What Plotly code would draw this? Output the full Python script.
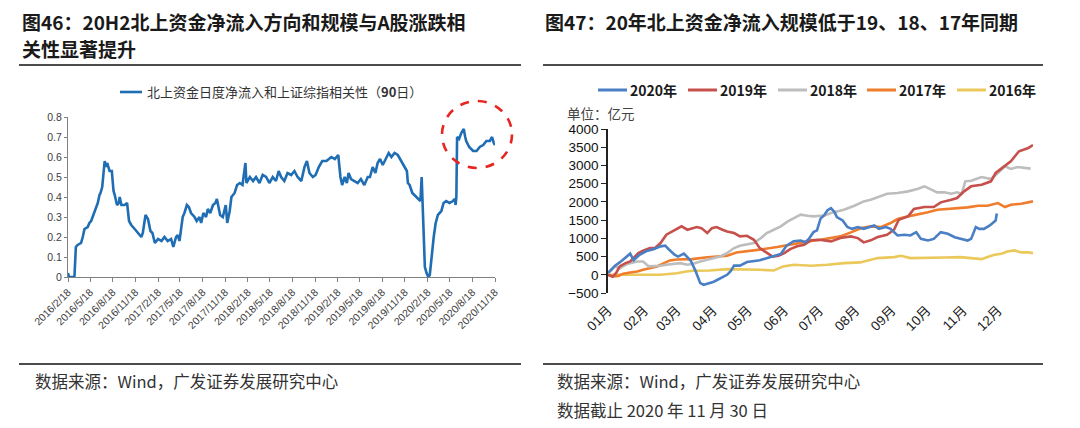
import plotly.graph_objects as go

# The page body keeps the browser's default 8px margin, so the figure is drawn
# 8px smaller and every reference pixel position is shifted by that offset.
PAGE_W, PAGE_H, OFF = 1080, 428, 8
W, H = PAGE_W - OFF, PAGE_H - OFF

# ---------------- Left chart data: 90-day correlation ----------------
corr_dates = [
    "2016-02-18", "2016-02-22", "2016-03-15", "2016-03-18", "2016-03-21", "2016-03-28", "2016-04-11",
    "2016-04-18", "2016-04-25", "2016-05-08", "2016-05-15", "2016-05-22", "2016-05-28", "2016-06-05",
    "2016-06-12", "2016-06-18", "2016-06-25", "2016-06-29", "2016-07-06", "2016-07-11", "2016-07-16",
    "2016-07-22", "2016-07-26", "2016-08-05", "2016-08-14", "2016-08-21", "2016-08-26", "2016-09-04",
    "2016-09-12", "2016-09-15", "2016-09-22", "2016-10-05", "2016-10-15", "2016-10-23", "2016-11-01",
    "2016-11-15", "2016-11-28", "2016-12-12", "2016-12-18", "2016-12-29", "2017-01-08", "2017-01-18",
    "2017-01-26", "2017-02-05", "2017-02-18", "2017-03-04", "2017-03-16", "2017-03-29", "2017-04-12",
    "2017-04-21", "2017-05-02", "2017-05-09", "2017-05-16", "2017-05-22", "2017-05-29", "2017-06-05",
    "2017-06-15", "2017-06-23", "2017-07-02", "2017-07-16", "2017-07-25", "2017-08-05", "2017-08-12",
    "2017-08-21", "2017-09-01", "2017-09-08", "2017-09-18", "2017-09-29", "2017-10-09", "2017-10-15",
    "2017-10-23", "2017-10-28", "2017-11-08", "2017-11-20", "2017-11-26", "2017-12-06", "2017-12-13",
    "2017-12-26", "2018-01-05", "2018-01-16", "2018-01-27", "2018-02-08", "2018-02-12", "2018-02-26",
    "2018-03-11", "2018-03-23", "2018-04-06", "2018-04-19", "2018-05-03", "2018-05-16", "2018-05-30",
    "2018-06-12", "2018-06-23", "2018-07-03", "2018-07-16", "2018-07-29", "2018-08-13", "2018-08-26",
    "2018-09-08", "2018-09-23", "2018-10-06", "2018-10-16", "2018-10-26", "2018-11-09", "2018-11-20",
    "2018-12-03", "2018-12-17", "2019-01-03", "2019-01-23", "2019-02-06", "2019-02-20", "2019-03-01",
    "2019-03-08", "2019-03-18", "2019-03-27", "2019-04-03", "2019-04-13", "2019-04-27", "2019-05-10",
    "2019-05-23", "2019-06-06", "2019-06-20", "2019-06-29", "2019-07-10", "2019-07-21", "2019-07-30",
    "2019-08-09", "2019-08-20", "2019-08-31", "2019-09-13", "2019-09-24", "2019-10-07", "2019-10-20",
    "2019-11-03", "2019-11-17", "2019-11-26", "2019-11-30", "2019-12-07", "2019-12-18", "2019-12-27",
    "2020-01-10", "2020-01-20", "2020-01-25", "2020-01-28", "2020-01-31", "2020-02-07", "2020-02-14",
    "2020-02-21", "2020-02-27", "2020-03-05", "2020-03-09", "2020-03-14", "2020-03-22", "2020-03-31",
    "2020-04-14", "2020-04-23", "2020-05-04", "2020-05-17", "2020-05-31", "2020-06-08", "2020-06-11",
    "2020-06-14", "2020-06-17", "2020-06-25", "2020-07-04", "2020-07-14", "2020-07-20", "2020-07-24",
    "2020-08-05", "2020-08-21", "2020-09-04", "2020-09-17", "2020-10-01", "2020-10-14", "2020-10-28",
    "2020-11-06", "2020-11-13", "2020-11-18",
]
corr_values = [
    0.02, 0.0, 0.0, 0.13, 0.15, 0.16, 0.17,
    0.20, 0.24, 0.25, 0.27, 0.28, 0.30, 0.33,
    0.36, 0.37, 0.41, 0.42, 0.45, 0.50, 0.58,
    0.55, 0.57, 0.53, 0.53, 0.43, 0.41, 0.36,
    0.37, 0.40, 0.36, 0.36, 0.37, 0.28, 0.26,
    0.24, 0.22, 0.20, 0.22, 0.31, 0.29, 0.23,
    0.22, 0.17, 0.19, 0.18, 0.20, 0.18, 0.19,
    0.15, 0.20, 0.21, 0.18, 0.25, 0.30, 0.32,
    0.36, 0.35, 0.32, 0.30, 0.28, 0.30, 0.27,
    0.32, 0.30, 0.34, 0.32, 0.36, 0.37, 0.39,
    0.35, 0.31, 0.30, 0.36, 0.27, 0.33, 0.40,
    0.42, 0.46, 0.47, 0.46, 0.57, 0.47, 0.50,
    0.48, 0.50, 0.47, 0.51, 0.50, 0.47, 0.50,
    0.48, 0.53, 0.50, 0.48, 0.52, 0.51, 0.53,
    0.50, 0.48, 0.55, 0.58, 0.52, 0.50, 0.51,
    0.55, 0.58, 0.58, 0.60, 0.59, 0.61, 0.50,
    0.46, 0.50, 0.47, 0.52, 0.49, 0.48, 0.47,
    0.49, 0.46, 0.50, 0.50, 0.55, 0.52, 0.57,
    0.59, 0.56, 0.59, 0.62, 0.60, 0.62, 0.61,
    0.58, 0.55, 0.53, 0.47, 0.46, 0.42, 0.41,
    0.39, 0.38, 0.50, 0.40, 0.30, 0.05, 0.02,
    0.00, 0.01, 0.10, 0.12, 0.20, 0.27, 0.31,
    0.33, 0.37, 0.38, 0.37, 0.38, 0.39, 0.36,
    0.40, 0.70, 0.69, 0.72, 0.74, 0.70, 0.68,
    0.65, 0.63, 0.63, 0.65, 0.66, 0.68, 0.68,
    0.70, 0.67, 0.66,
]
left_tick_dates = [
    "2016-02-18", "2016-05-18", "2016-08-18", "2016-11-18",
    "2017-02-18", "2017-05-18", "2017-08-18", "2017-11-18",
    "2018-02-18", "2018-05-18", "2018-08-18", "2018-11-18",
    "2019-02-18", "2019-05-18", "2019-08-18", "2019-11-18",
    "2020-02-18", "2020-05-18", "2020-08-18", "2020-11-18",
]
left_tick_labels = [
    "2016/2/18", "2016/5/18", "2016/8/18", "2016/11/18",
    "2017/2/18", "2017/5/18", "2017/8/18", "2017/11/18",
    "2018/2/18", "2018/5/18", "2018/8/18", "2018/11/18",
    "2019/2/18", "2019/5/18", "2019/8/18", "2019/11/18",
    "2020/2/18", "2020/5/18", "2020/8/18", "2020/11/18",
]
left_y_ticks = [0, 0.1, 0.2, 0.3, 0.4, 0.5, 0.6, 0.7, 0.8]
left_y_labels = ["0", "0.1", "0.2", "0.3", "0.4", "0.5", "0.6", "0.7", "0.8"]
left_series_name = "北上资金日度净流入和上证综指相关性（<b>90</b>日）"

# ---------------- Right chart data: cumulative net inflow (亿元) ----------------
month_ticks = ["01-01", "02-01", "03-01", "04-01", "05-01", "06-01",
               "07-01", "08-01", "09-01", "10-01", "11-01", "12-01"]
month_labels = ["01月", "02月", "03月", "04月", "05月", "06月",
                "07月", "08月", "09月", "10月", "11月", "12月"]

flow2020_days = [
    "01-01", "01-03", "01-07", "01-11", "01-16", "01-18", "01-20", "01-23", "01-28", "02-03",
    "02-09", "02-15", "02-19", "02-22", "02-27", "03-02", "03-07", "03-11", "03-13", "03-17",
    "03-21", "03-24", "04-01", "04-04", "04-07", "04-13", "04-16", "04-19", "04-24", "04-30",
    "05-11", "05-20", "05-29", "06-03", "06-09", "06-15", "06-19", "06-22", "06-26", "06-29",
    "07-02", "07-05", "07-08", "07-11", "07-14", "07-16", "07-21", "07-25", "07-29", "08-03",
    "08-08", "08-13", "08-17", "08-21", "08-27", "08-31", "09-06", "09-12", "09-17", "09-22",
    "09-26", "10-02", "10-07", "10-13", "10-19", "10-25", "10-30", "11-05", "11-08", "11-12",
    "11-15", "11-19", "11-24", "11-28", "11-29", "11-30",
]
flow2020 = [
    50, 110, 250, 340, 480, 545, 580, 400, 550, 650,
    700, 780, 800, 700, 550, 500, 580, 450, 380, 100,
    -230, -275, -200, -150, -100, 0, 100, 250, 250, 350,
    400, 480, 570, 800, 920, 940, 895, 985, 1170, 1217,
    1540, 1630, 1770, 1830, 1720, 1585, 1490, 1310, 1260, 1310,
    1260, 1310, 1355, 1260, 1310, 1260, 1080, 1100, 1080, 1170,
    985, 940, 985, 1170, 1125, 1030, 985, 940, 985, 1310,
    1260, 1260, 1355, 1450, 1490, 1680,
]

flow2019_days = [
    "01-01", "01-05", "01-08", "01-11", "01-16", "01-20", "01-23", "01-27", "01-31", "02-06",
    "02-10", "02-15", "02-20", "02-25", "03-02", "03-05", "03-10", "03-14", "03-18", "03-22",
    "03-27", "03-31", "04-04", "04-09", "04-13", "04-19", "04-24", "04-30", "05-06", "05-11",
    "05-17", "05-22", "05-27", "06-01", "06-06", "06-12", "06-18", "06-24", "07-01", "07-11",
    "07-19", "07-28", "08-03", "08-08", "08-14", "08-20", "08-28", "09-03", "09-07", "09-15",
    "09-20", "09-29", "10-07", "10-13", "10-22", "10-27", "11-02", "11-08", "11-17", "11-25",
    "11-29", "12-07", "12-12", "12-19", "12-27", "12-31",
]
flow2019 = [
    0, -50, 50, 230, 320, 365, 460, 595, 660, 730,
    730, 870, 1100, 1190, 1280, 1330, 1236, 1280, 1310, 1280,
    1145, 1280, 1310, 1236, 1190, 1145, 1053, 1070, 960, 730,
    595, 500, 520, 595, 705, 780, 825, 950, 962, 916,
    1007, 1053, 1007, 889, 944, 1035, 1099, 1236, 1511, 1603,
    1804, 1859, 1859, 1987, 2060, 2106, 2289, 2427, 2472, 2564,
    2793, 2976, 3114, 3388, 3480, 3560,
]

flow2018_days = [
    "01-01", "01-03", "01-07", "01-11", "01-16", "01-20", "01-26", "01-31", "02-05", "02-09",
    "02-15", "02-20", "02-26", "03-04", "03-10", "03-15", "03-21", "03-27", "04-02", "04-07",
    "04-13", "04-19", "04-24", "04-30", "05-06", "05-12", "05-17", "05-23", "05-29", "06-04",
    "06-09", "06-15", "06-21", "06-26", "07-02", "07-05", "07-11", "07-16", "07-22", "07-31",
    "08-08", "08-14", "08-20", "08-28", "09-06", "09-15", "09-23", "09-29", "10-05", "10-10",
    "10-16", "10-22", "10-27", "10-31", "11-03", "11-08", "11-17", "11-25", "12-01", "12-07",
    "12-12", "12-18", "12-29",
]
flow2018 = [
    50, 90, 230, 180, 275, 320, 365, 365, 230, 230,
    247, 275, 293, 320, 275, 302, 365, 412, 458, 504,
    595, 733, 797, 824, 870, 1007, 1145, 1236, 1328, 1466,
    1557, 1649, 1621, 1603, 1621, 1621, 1694, 1740, 1786, 1896,
    2014, 2060, 2133, 2225, 2243, 2289, 2353, 2427, 2335, 2262,
    2262, 2225, 2262, 2225, 2564, 2582, 2683, 2628, 2793, 2976,
    2903, 2958, 2912,
]

flow2017_days = [
    "01-01", "01-06", "01-10", "01-14", "01-20", "01-26", "01-31", "02-06", "02-12", "02-18",
    "02-23", "03-01", "03-14", "03-27", "04-13", "04-21", "04-30", "05-11", "05-26", "06-09",
    "06-24", "07-02", "07-11", "07-19", "07-28", "08-06", "08-14", "08-23", "08-31", "09-06",
    "09-15", "09-23", "10-02", "10-10", "10-19", "10-27", "11-05", "11-14", "11-22", "12-01",
    "12-07", "12-12", "12-21", "12-31",
]
flow2017 = [
    0, -45, -30, 30, 65, 90, 137, 183, 230, 320,
    394, 420, 430, 480, 522, 610, 640, 690, 760, 852,
    930, 962, 1007, 1053, 1163, 1282, 1328, 1310, 1420, 1530,
    1603, 1649, 1713, 1786, 1804, 1832, 1850, 1896, 1896, 1969,
    1859, 1923, 1951, 2014,
]

flow2016_days = [
    "01-01", "01-31", "02-15", "03-01", "03-09", "03-15", "03-29", "04-13", "04-27", "05-11",
    "05-23", "05-31", "06-09", "06-24", "07-08", "07-22", "08-05", "08-14", "08-20", "09-03",
    "09-09", "09-17", "10-02", "10-16", "10-30", "11-08", "11-17", "11-22", "11-28", "12-04",
    "12-09", "12-15", "12-21", "12-27", "12-31",
]
flow2016 = [
    0, 0, 0, 40, 92, 110, 119, 156, 156, 137,
    119, 229, 275, 247, 275, 320, 339, 412, 458, 485,
    522, 458, 458, 476, 485, 458, 430, 485, 550, 577,
    641, 669, 614, 614, 595,
]

# ---------------- Styling ----------------
REF_YEAR = "2021-"
C_LEFT = "#1f6db3"
series_right = [
    ("2020年", flow2020_days, flow2020, "#4a7fc5"),
    ("2019年", flow2019_days, flow2019, "#c5504c"),
    ("2018年", flow2018_days, flow2018, "#bdbdbd"),
    ("2017年", flow2017_days, flow2017, "#f07d2c"),
    ("2016年", flow2016_days, flow2016, "#ebc85a"),
]
LAT = "Liberation Sans, Noto Sans CJK SC, sans-serif"
CJK = "Noto Sans CJK SC, Liberation Sans, sans-serif"


def px(x):
    return (x - OFF) / W


def py(y):
    return 1 - (y - OFF) / H


fig = go.Figure()

fig.add_trace(go.Scatter(
    x=corr_dates, y=corr_values, mode="lines", xaxis="x", yaxis="y",
    line=dict(color=C_LEFT, width=2.6), showlegend=False, name="相关性",
))

# draw older years first so 2020 sits on top
for name, days, vals, col in reversed(series_right):
    fig.add_trace(go.Scatter(
        x=[REF_YEAR + d for d in days], y=vals, mode="lines", xaxis="x2", yaxis="y2",
        line=dict(color=col, width=2.6), showlegend=False, name=name,
    ))

# ---------------- Axes ----------------
y2_dom = [py(293), py(129)]
y2_range = [-500, 4000]
zero_pos = y2_dom[0] + (0 - y2_range[0]) / (y2_range[1] - y2_range[0]) * (y2_dom[1] - y2_dom[0])

fig.update_layout(
    template="none",
    width=W, height=H, margin=dict(l=0, r=0, t=0, b=0, autoexpand=False),
    paper_bgcolor="white", plot_bgcolor="white", showlegend=False,
    xaxis=dict(
        domain=[px(68), px(495)], anchor="y", type="date", automargin=False,
        range=["2016-02-18", "2020-11-18"],
        tickmode="array", tickvals=left_tick_dates, ticktext=left_tick_labels,
        tickangle=-45, tickfont=dict(family=LAT, size=10.5, color="#404040"),
        showgrid=False, zeroline=False, showline=True, linecolor="#808080", linewidth=1,
        ticks="outside", ticklen=4, tickcolor="#808080",
    ),
    yaxis=dict(
        domain=[py(277), py(117)], anchor="x", range=[0, 0.8], automargin=False,
        tickmode="array", tickvals=left_y_ticks, ticktext=left_y_labels,
        tickfont=dict(family=LAT, size=10.5, color="#404040"),
        showgrid=False, zeroline=False, showline=True, linecolor="#808080", linewidth=1,
        ticks="outside", ticklen=3, tickcolor="#808080",
    ),
    xaxis2=dict(
        domain=[px(608), px(1033)], anchor="y2", type="date", automargin=False,
        range=[REF_YEAR + "01-01", REF_YEAR + "12-31"],
        tickmode="array", tickvals=[REF_YEAR + m for m in month_ticks], ticktext=month_labels,
        tickangle=-45, tickfont=dict(family=LAT, size=13.5, color="#222222"),
        showgrid=False, zeroline=False, showline=False, ticks="", ticklabelstandoff=6,
    ),
    xaxis3=dict(
        overlaying="x2", anchor="free", position=zero_pos, type="date", automargin=False,
        range=[REF_YEAR + "01-01", REF_YEAR + "12-31"],
        tickmode="array", tickvals=[REF_YEAR + m for m in month_ticks],
        showticklabels=False, showgrid=False, zeroline=False,
        showline=True, linecolor="#222222", linewidth=1.5,
        ticks="outside", ticklen=5, tickcolor="#222222", tickwidth=1.2,
    ),
    yaxis2=dict(
        domain=y2_dom, anchor="x2", range=y2_range, automargin=False,
        tickmode="linear", tick0=-500, dtick=500,
        tickfont=dict(family=LAT, size=13.5, color="#111111"),
        showgrid=False, zeroline=False, showline=True, linecolor="#222222", linewidth=1.5,
        ticks="outside", ticklen=5, tickcolor="#222222", tickwidth=1.2,
    ),
)

# ---------------- Titles, rules, legends, notes ----------------
ann = []
shapes = []

ann.append(dict(x=px(20), y=py(21), xref="paper", yref="paper", xanchor="left", yanchor="middle",
                showarrow=False, text="<b>图46：20H2北上资金净流入方向和规模与A股涨跌相</b>",
                font=dict(family=CJK, size=19, color="#1a1a1a")))
ann.append(dict(x=px(20), y=py(49), xref="paper", yref="paper", xanchor="left", yanchor="middle",
                showarrow=False, text="<b>关性显著提升</b>",
                font=dict(family=CJK, size=19, color="#1a1a1a")))
ann.append(dict(x=px(543), y=py(21), xref="paper", yref="paper", xanchor="left", yanchor="middle",
                showarrow=False, text="<b>图47：20年北上资金净流入规模低于19、18、17年同期</b>",
                font=dict(family=CJK, size=19, color="#1a1a1a")))

for x0, x1 in [(19, 521), (543, 1043)]:
    shapes.append(dict(type="line", xref="paper", yref="paper", x0=px(x0), x1=px(x1),
                       y0=py(65), y1=py(65), line=dict(color="#111111", width=1.6)))
    shapes.append(dict(type="line", xref="paper", yref="paper", x0=px(x0), x1=px(x1),
                       y0=py(364), y1=py(364), line=dict(color="#111111", width=1.6)))

# left legend
shapes.append(dict(type="line", xref="paper", yref="paper", x0=px(120), x1=px(142),
                   y0=py(92), y1=py(92), line=dict(color=C_LEFT, width=2.6)))
ann.append(dict(x=px(145), y=py(92), xref="paper", yref="paper", xanchor="left", yanchor="middle",
                showarrow=False, text=left_series_name,
                font=dict(family=CJK, size=13, color="#333333")))

# red dashed highlight circle
shapes.append(dict(type="circle", xref="paper", yref="paper", x0=px(442), x1=px(512),
                   y0=py(168), y1=py(101), line=dict(color="#e8241f", width=2.6, dash="dash")))

# right legend
legend_x = [598, 688, 778, 867, 957]
for (name, _, _, col), lx in zip(series_right, legend_x):
    shapes.append(dict(type="line", xref="paper", yref="paper", x0=px(lx), x1=px(lx + 29),
                       y0=py(90), y1=py(90), line=dict(color=col, width=3)))
    ann.append(dict(x=px(lx + 30), y=py(90), xref="paper", yref="paper", xanchor="left",
                    yanchor="middle", showarrow=False, text="<b>" + name + "</b>",
                    font=dict(family=CJK, size=14, color="#1a1a1a")))

ann.append(dict(x=px(565), y=py(113), xref="paper", yref="paper", xanchor="left", yanchor="middle",
                showarrow=False, text="单位：亿元", font=dict(family=CJK, size=13.5, color="#444444")))

# footers
ann.append(dict(x=px(33), y=py(381), xref="paper", yref="paper", xanchor="left", yanchor="middle",
                showarrow=False, text="数据来源：Wind，广发证券发展研究中心",
                font=dict(family=CJK, size=16.5, color="#333333")))
ann.append(dict(x=px(555), y=py(381), xref="paper", yref="paper", xanchor="left", yanchor="middle",
                showarrow=False, text="数据来源：Wind，广发证券发展研究中心",
                font=dict(family=CJK, size=16.5, color="#333333")))
ann.append(dict(x=px(555), y=py(410), xref="paper", yref="paper", xanchor="left", yanchor="middle",
                showarrow=False, text="数据截止 2020 年 11 月 30 日",
                font=dict(family=CJK, size=16.5, color="#333333")))

fig.update_layout(annotations=ann, shapes=shapes)

fig.write_html("out.html")
